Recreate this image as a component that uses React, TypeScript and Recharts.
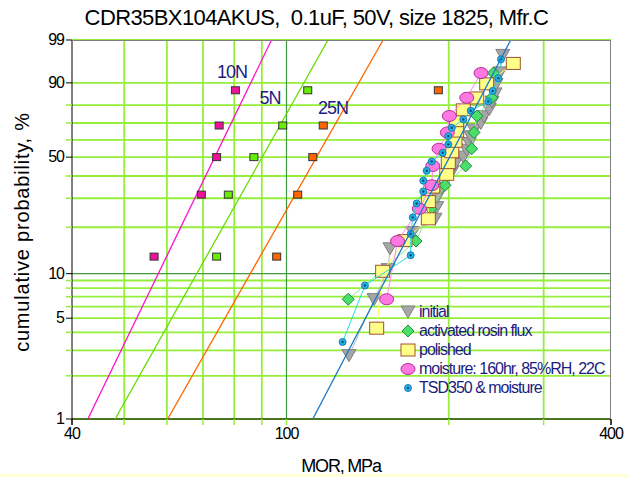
import React from 'react'
import { ScatterChart, Scatter, XAxis, YAxis, CartesianGrid } from 'recharts'

// Weibull probability transform: F (%) -> ln(-ln(1-F))
const weib = (p: number) => Math.log(-Math.log(1 - p / 100))

const probTicks = [1, 2, 3, 4, 5, 6, 7, 8, 9, 10, 20, 30, 40, 50, 60, 70, 80, 90, 99]
const probLabels = [1, 5, 10, 50, 90, 99]
const probDark = [10]
const mpaGrid = [50, 60, 70, 80, 90, 200, 300]
const mpaDark = [100]
const mpaTicks = [40, 50, 60, 70, 80, 90, 100, 200, 300, 400]
const mpaLabels = [40, 100, 400]

// median ranks
const rank5 = [12.96, 31.48, 50.0, 68.52, 87.04]
const rank10 = [6.73, 16.35, 25.96, 35.58, 45.19, 54.81, 64.42, 74.04, 83.65, 93.27]
const rank16 = [4.27, 10.37, 16.46, 22.56, 28.66, 34.76, 40.85, 46.95, 53.05, 59.15, 65.24, 71.34, 77.44, 83.54, 89.63, 95.73]
const rank20 = [3.43, 8.33, 13.24, 18.14, 23.04, 27.94, 32.84, 37.75, 42.65, 47.55, 52.45, 57.35, 62.25, 67.16, 72.06, 76.96, 81.86, 86.76, 91.67, 96.57]
const rank25 = [2.76, 6.69, 10.63, 14.57, 18.5, 22.44, 26.38, 30.31, 34.25, 38.19, 42.13, 46.06, 50.0, 53.94, 57.87, 61.81, 65.75, 69.69, 73.62, 77.56, 81.5, 85.43, 89.37, 93.31, 97.24]

// MOR, MPa
const initialMpa = [130.6, 145.4, 154.3, 155.6, 171.5, 188.6, 190.0, 190.5, 194.1, 198.5, 202.8, 205.4, 212.8, 216.0, 218.4, 219.7, 222.8, 229.3, 232.5, 237.8, 240.6, 243.7, 244.7, 249.0, 251.9]
const rosinMpa = [130.2, 173.9, 185.4, 196.8, 215.0, 220.6, 222.8, 225.7, 240.3, 242.0]
const polishedMpa = [147.0, 150.8, 165.9, 183.3, 183.3, 186.8, 198.3, 199.6, 202.6, 205.4, 206.9, 206.9, 212.8, 225.4, 235.2, 263.5]
const moistureMpa = [153.4, 160.7, 176.4, 186.0, 186.8, 191.9, 198.8, 200.5, 216.0, 229.6]
const tsdMpa = [127.1, 139.8, 170.0, 170.0, 171.5, 174.4, 179.4, 179.4, 182.0, 186.0, 194.9, 199.6, 199.6, 202.6, 212.8, 219.7, 236.8, 241.3, 247.2, 250.0]

const n10Mpa = [56.8, 69.5, 74.2, 75.0, 80.4]
const n5Mpa = [74.2, 78.0, 87.0, 98.4, 109.5]
const n25Mpa = [95.9, 104.9, 111.9, 117.0, 191.3]

// fitted lines, ends at 1% and 99%
const fitProb = [1, 99]
const fit10NMpa = [42.8, 93.8]
const fit5NMpa = [48.1, 119.4]
const fit25NMpa = [60.2, 151.1]
const fitMainMpa = [111.9, 260.6]

const pts = (mpa: number[], prob: number[]) => mpa.map((v, i) => ({ x: v, y: weib(prob[i]) }))

const NAVY = '#1c1c80'
const GRID = '#95ee3a'
const FONT = '"Liberation Sans", Arial, sans-serif'

const Tri = ({ cx, cy }: any) => (
  <polygon points={`${cx - 7},${cy - 6} ${cx + 7},${cy - 6} ${cx},${cy + 6}`} fill="#a6a6a6" stroke="#808080" strokeWidth={1} />
)
const Diamond = ({ cx, cy }: any) => (
  <polygon points={`${cx},${cy - 6} ${cx + 6},${cy} ${cx},${cy + 6} ${cx - 6},${cy}`} fill="#4ade6a" stroke="#1f8a3a" strokeWidth={1} />
)
const YSquare = ({ cx, cy }: any) => (
  <rect x={cx - 7} y={cy - 6} width={14} height={12} fill="#ffff88" stroke="#a0522d" strokeWidth={1} />
)
const Oval = ({ cx, cy }: any) => (
  <ellipse cx={cx} cy={cy} rx={7} ry={5.5} fill="#ff77e0" stroke="#b0309a" strokeWidth={1} />
)
const Dot = ({ cx, cy }: any) => (
  <g>
    <circle cx={cx} cy={cy} r={3.5} fill="#22b4e0" stroke="#1f78b4" strokeWidth={1} />
    <circle cx={cx} cy={cy} r={1.2} fill="#0a4a7a" />
  </g>
)
const smallSq = (fill: string) => ({ cx, cy }: any) => (
  <rect x={cx - 4} y={cy - 3.5} width={8} height={7} fill={fill} stroke="#333" strokeWidth={1} />
)
const NoShape = () => <g />

const YTick = ({ x, y, payload }: any) => {
  const p = probTicks.find((q) => Math.abs(weib(q) - payload.value) < 1e-6)
  const lab = p !== undefined && probLabels.includes(p)
  return (
    <g>
      <line x1={x - 6} x2={x} y1={y} y2={y} stroke={lab ? '#000' : GRID} strokeWidth={lab ? 1 : 1.5} />
      {lab && (
        <text x={x - 8} y={y} dy={5} textAnchor="end" fontSize={16} letterSpacing={-1} fontFamily={FONT} fill="#000">
          {p}
        </text>
      )}
    </g>
  )
}

const XTick = ({ x, y, payload }: any) => {
  const lab = mpaLabels.includes(payload.value)
  return (
    <g>
      <line x1={x} x2={x} y1={y} y2={y + 6} stroke={lab && payload.value !== 100 ? '#000' : GRID} strokeWidth={1.5} />
      {lab && (
        <text x={x} y={y} dy={20} textAnchor="middle" fontSize={16} letterSpacing={-1} fontFamily={FONT} fill="#000">
          {payload.value}
        </text>
      )}
    </g>
  )
}

const legendItems = [
  { label: 'initial', shape: Tri },
  { label: 'activated rosin flux', shape: Diamond },
  { label: 'polished', shape: YSquare },
  { label: 'moisture: 160hr, 85%RH, 22C', shape: Oval },
  { label: 'TSD350 & moisture', shape: Dot },
]

export default function App() {
  const yDomain = [weib(1), weib(99)]
  return (
    <div style={{ position: 'absolute', left: 0, top: 0, width: 629, height: 477, background: '#fff', fontFamily: FONT, overflow: 'hidden' }}>
      <ScatterChart width={629} height={477} margin={{ top: 40, right: 18, bottom: 0, left: 0 }}>
        <CartesianGrid stroke={GRID} strokeWidth={1.8} horizontalValues={probTicks.filter((p) => !probDark.includes(p)).map(weib)} verticalValues={mpaGrid} />
        <CartesianGrid stroke="#3f9a3f" strokeWidth={1.2} horizontalValues={probDark.map(weib)} verticalValues={mpaDark} />
        <XAxis
          type="number"
          dataKey="x"
          scale="log"
          domain={[40, 400]}
          ticks={mpaTicks}
          allowDataOverflow
          height={58}
          axisLine={{ stroke: '#000' }}
          tickLine={false}
          tickSize={0}
          tickMargin={0}
          tick={<XTick />}
          interval={0}
        />
        <YAxis
          type="number"
          dataKey="y"
          domain={yDomain}
          ticks={probTicks.map(weib)}
          allowDataOverflow
          width={72}
          axisLine={{ stroke: '#000' }}
          tickLine={false}
          tickSize={0}
          tickMargin={0}
          tick={<YTick />}
          interval={0}
        />
        <Scatter data={pts(fit10NMpa, fitProb)} line={{ stroke: '#ff11cc', strokeWidth: 1.3 }} shape={NoShape} isAnimationActive={false} />
        <Scatter data={pts(fit5NMpa, fitProb)} line={{ stroke: '#66dd00', strokeWidth: 1.3 }} shape={NoShape} isAnimationActive={false} />
        <Scatter data={pts(fit25NMpa, fitProb)} line={{ stroke: '#ff6600', strokeWidth: 1.3 }} shape={NoShape} isAnimationActive={false} />
        <Scatter data={pts(n10Mpa, rank5)} shape={smallSq('#ee1199')} isAnimationActive={false} />
        <Scatter data={pts(n5Mpa, rank5)} shape={smallSq('#66ee00')} isAnimationActive={false} />
        <Scatter data={pts(n25Mpa, rank5)} shape={smallSq('#ff6600')} isAnimationActive={false} />
        <Scatter data={pts(initialMpa, rank25)} line={{ stroke: '#b8b8b8', strokeWidth: 1 }} shape={Tri} isAnimationActive={false} />
        <Scatter data={pts(rosinMpa, rank10)} line={{ stroke: '#88ee88', strokeWidth: 1 }} shape={Diamond} isAnimationActive={false} />
        <Scatter data={pts(polishedMpa, rank16)} line={{ stroke: '#ffff55', strokeWidth: 1 }} shape={YSquare} isAnimationActive={false} />
        <Scatter data={pts(moistureMpa, rank10)} line={{ stroke: '#ff88ee', strokeWidth: 1 }} shape={Oval} isAnimationActive={false} />
        <Scatter data={pts(tsdMpa, rank20)} line={{ stroke: '#22dddd', strokeWidth: 1 }} shape={Dot} isAnimationActive={false} />
        <Scatter data={pts(fitMainMpa, fitProb)} line={{ stroke: '#1a78c8', strokeWidth: 1.3 }} shape={NoShape} isAnimationActive={false} />
      </ScatterChart>

      {/* top / right plot border */}
      <div style={{ position: 'absolute', left: 72, top: 40, width: 539, height: 379, boxSizing: 'border-box', borderTop: '1.5px solid #808080', borderRight: '1.5px solid #808080', pointerEvents: 'none' }} />

      <div style={{ position: 'absolute', left: 0, width: 629, top: 5, textAlign: 'center', fontSize: 22, letterSpacing: -0.6, color: '#000', paddingLeft: 4, boxSizing: 'border-box', whiteSpace: 'nowrap' }}>
        CDR35BX104AKUS,&nbsp;&nbsp;0.1uF, 50V, size 1825, Mfr.C
      </div>
      <div style={{ position: 'absolute', left: 22, top: 232, transform: 'translate(-50%, -50%) rotate(-90deg)', whiteSpace: 'nowrap', fontSize: 20, letterSpacing: 0.8, color: '#000' }}>
        cumulative probability, %
      </div>
      <div style={{ position: 'absolute', left: 341, top: 466, transform: 'translate(-50%, -50%)', whiteSpace: 'nowrap', fontSize: 18, letterSpacing: -1.2, color: '#000' }}>
        MOR, MPa
      </div>

      <div style={{ position: 'absolute', left: 232, top: 72, transform: 'translate(-50%, -50%)', fontSize: 18, letterSpacing: -1, color: NAVY }}>10N</div>
      <div style={{ position: 'absolute', left: 270, top: 98, transform: 'translate(-50%, -50%)', fontSize: 18, letterSpacing: -1, color: NAVY }}>5N</div>
      <div style={{ position: 'absolute', left: 333, top: 108, transform: 'translate(-50%, -50%)', fontSize: 18, letterSpacing: -1, color: NAVY }}>25N</div>

      <div style={{ position: 'absolute', left: 398, top: 302, width: 213, overflow: 'hidden', pointerEvents: 'none' }}>
        {legendItems.map((it) => {
          const S = it.shape
          return (
            <div key={it.label} style={{ display: 'flex', alignItems: 'center', height: 19 }}>
              <svg width={21} height={16} style={{ flex: 'none' }}>
                <S cx={10} cy={8} />
              </svg>
              <span style={{ fontSize: 16, letterSpacing: -1, color: NAVY, whiteSpace: 'nowrap' }}>{it.label}</span>
            </div>
          )
        })}
      </div>
      <div style={{ position: 'absolute', left: 0, top: 474, width: 629, height: 3, background: '#ffffd8' }} />
    </div>
  )
}
